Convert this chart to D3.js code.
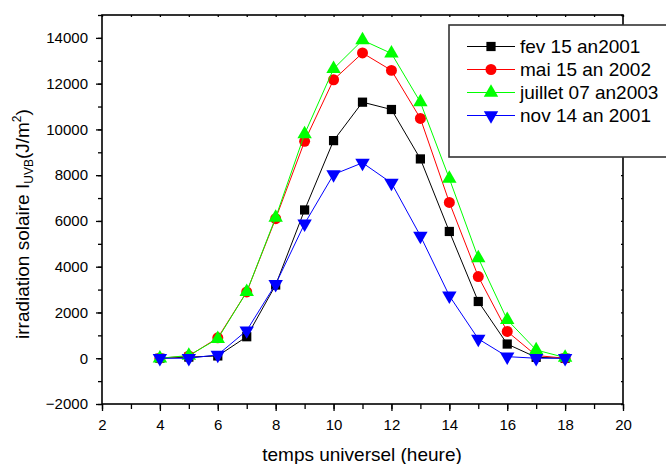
<!DOCTYPE html>
<html>
<head>
<meta charset="utf-8">
<script src="https://cdn.jsdelivr.net/npm/d3@7"></script>
<style>
  body { margin: 0; background: #fff; }
  svg { display: block; font-family: Arial, "Liberation Sans", sans-serif; }
</style>
</head>
<body>
<svg width="666" height="464"></svg>
<script>
const hours = [4, 5, 6, 7, 8, 9, 10, 11, 12, 13, 14, 15, 16, 17, 18];

const fev2001 = [0, 50, 100, 940, 3200, 6480, 9510, 11190, 10870, 8710, 5540, 2480, 620, 40, 0];
const mai2002 = [0, 100, 890, 2900, 6100, 9480, 12170, 13340, 12580, 10480, 6810, 3570, 1170, 120, 0];
const juillet2003 = [0, 120, 850, 2900, 6150, 9800, 12650, 13900, 13320, 11190, 7850, 4380, 1680, 360, 30];
const nov2001 = [0, 0, 150, 1210, 3240, 5880, 8030, 8540, 7660, 5350, 2730, 845, 70, 0, 0];

const seriesNames = ['fev 15 an2001', 'mai 15 an 2002', 'juillet 07 an2003', 'nov 14 an 2001'];
const seriesColors = ['#000000', '#ff0000', '#00ff00', '#0000ff'];
const seriesSymbols = ['square', 'circle', 'triangle', 'down'];

const xTicks = [2, 4, 6, 8, 10, 12, 14, 16, 18, 20];
const yTicks = [-2000, 0, 2000, 4000, 6000, 8000, 10000, 12000, 14000];

const series = [fev2001, mai2002, juillet2003, nov2001].map((values, i) => ({
  name: seriesNames[i],
  color: seriesColors[i],
  symbol: seriesSymbols[i],
  points: hours.map((h, j) => [h, values[j]]),
}));

const plot = { left: 102, right: 623, top: 15, bottom: 404 };

const svg = d3.select('svg');
const x = d3.scaleLinear().domain([2, 20]).range([plot.left, plot.right]);
const y = d3.scaleLinear().domain([-2000, 15000]).range([plot.bottom, plot.top]);

// frame
svg.append('rect')
  .attr('x', plot.left).attr('y', plot.top)
  .attr('width', plot.right - plot.left).attr('height', plot.bottom - plot.top)
  .attr('fill', 'none').attr('stroke', '#000').attr('stroke-width', 1.6);

const minorX = d3.range(2, 21, 1);
const minorY = d3.range(-2000, 15001, 1000);

function styleAxis(g) {
  g.select('.domain').remove();
  g.selectAll('line').attr('stroke', '#000').attr('stroke-width', 1.3);
  g.selectAll('text').attr('font-size', 15).attr('fill', '#000');
}

// bottom axis
svg.append('g').attr('transform', `translate(0,${plot.bottom})`)
  .call(d3.axisBottom(x).tickValues(minorX).tickSize(5).tickFormat(''))
  .call(styleAxis);
svg.append('g').attr('transform', `translate(0,${plot.bottom})`)
  .call(d3.axisBottom(x).tickValues(xTicks).tickSize(7).tickPadding(8).tickFormat(d3.format('d')))
  .call(styleAxis);

// left axis
svg.append('g').attr('transform', `translate(${plot.left},0)`)
  .call(d3.axisLeft(y).tickValues(minorY).tickSize(4).tickFormat(''))
  .call(styleAxis);
svg.append('g').attr('transform', `translate(${plot.left},0)`)
  .call(d3.axisLeft(y).tickValues(yTicks).tickSize(6).tickPadding(8).tickFormat(d3.format('d')))
  .call(styleAxis);

// mirrored top / right ticks (inward)
svg.append('g').attr('transform', `translate(0,${plot.top})`)
  .call(d3.axisBottom(x).tickValues(minorX).tickSize(2).tickFormat(''))
  .call(styleAxis);
svg.append('g').attr('transform', `translate(${plot.right},0)`)
  .call(d3.axisLeft(y).tickValues(minorY).tickSize(2).tickFormat(''))
  .call(styleAxis);

// symbols
const symbolType = {
  square: { type: d3.symbolSquare, size: 85, rot: 0 },
  circle: { type: d3.symbolCircle, size: 95, rot: 0 },
  triangle: { type: d3.symbolTriangle, size: 90, rot: 0 },
  down: { type: d3.symbolTriangle, size: 90, rot: 180 },
};

function drawSymbol(g, s, px, py) {
  const t = symbolType[s.symbol];
  g.append('path')
    .attr('d', d3.symbol().type(t.type).size(t.size)())
    .attr('transform', `translate(${px},${py}) rotate(${t.rot})`)
    .attr('fill', s.color);
}

const line = d3.line().x(d => x(d[0])).y(d => y(d[1]));

for (const s of series) {
  const g = svg.append('g');
  g.append('path')
    .attr('d', line(s.points))
    .attr('fill', 'none')
    .attr('stroke', s.color)
    .attr('stroke-width', 1);
  for (const p of s.points) drawSymbol(g, s, x(p[0]), y(p[1]));
}

// axis titles
svg.append('text')
  .attr('x', 362).attr('y', 461)
  .attr('text-anchor', 'middle').attr('font-size', 19)
  .text('temps universel (heure)');

const yTitle = svg.append('text')
  .attr('transform', 'translate(29,339) rotate(-90)')
  .attr('font-size', 19);
yTitle.append('tspan').text('irradiation solaire I');
yTitle.append('tspan').attr('font-size', 12).attr('dy', 4).text('UVB');
yTitle.append('tspan').attr('dy', -4).text('(J/m');
yTitle.append('tspan').attr('font-size', 12).attr('dy', -8).text('2');
yTitle.append('tspan').attr('dy', 8).text(')');

// legend
const legend = svg.append('g');
legend.append('rect')
  .attr('x', 449).attr('y', 25).attr('width', 230).attr('height', 132)
  .attr('fill', '#fff').attr('stroke', '#333').attr('stroke-width', 1.6);

series.forEach((s, i) => {
  const ly = 46.5 + i * 23;
  legend.append('line')
    .attr('x1', 467).attr('x2', 515).attr('y1', ly).attr('y2', ly)
    .attr('stroke', s.color).attr('stroke-width', 1);
  drawSymbol(legend, s, 491, ly);
  legend.append('text')
    .attr('x', 520).attr('y', ly + 6.5)
    .attr('font-size', 19)
    .text(s.name);
});
</script>
</body>
</html>
